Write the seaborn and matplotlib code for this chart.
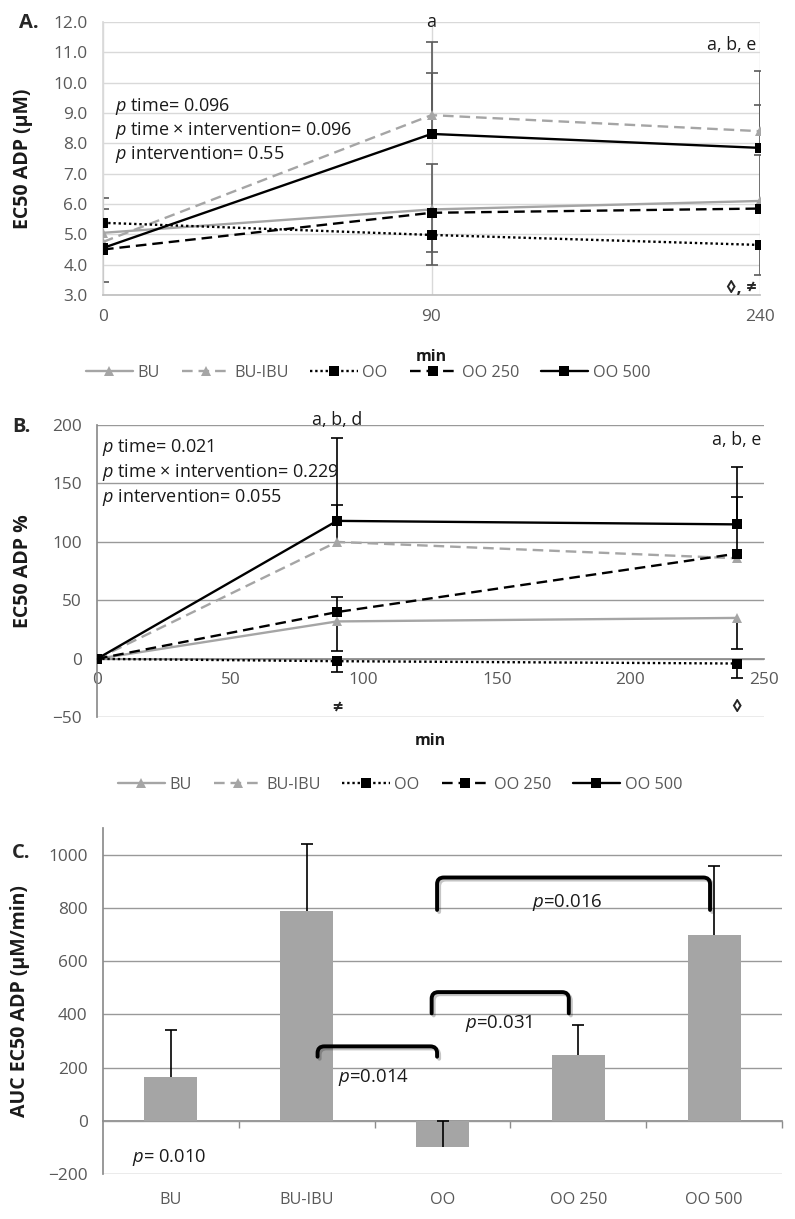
import numpy as np
import pandas as pd
import matplotlib
matplotlib.use("Agg")
import matplotlib.pyplot as plt
import matplotlib.patheffects as pe
from matplotlib.lines import Line2D
from matplotlib.path import Path
from matplotlib.patches import PathPatch
import seaborn as sns

# ---- values ----
groups = ["BU", "BU-IBU", "OO", "OO 250", "OO 500"]

# A. EC50 ADP (uM), categorical time axis
times_a = ["0", "90", "240"]
a_bu = [5.05, 5.82, 6.10]
a_bu_ibu = [4.75, 8.93, 8.40]
a_oo = [5.38, 4.98, 4.65]
a_oo250 = [4.50, 5.71, 5.85]
a_oo500 = [4.55, 8.31, 7.85]
# one-sided SD bars: positive = drawn up, negative = drawn down, 0 = none
a_bu_err = [0.80, 1.50, 1.50]
a_bu_ibu_err = [0.0, 2.42, 2.00]
a_oo_err = [0.83, -0.98, -1.00]
a_oo250_err = [-1.06, -1.28, 0.0]
a_oo500_err = [0.0, 2.02, 1.42]

# B. EC50 ADP % change, numeric minutes axis
times_b = [0, 90, 240]
b_bu = [0, 32, 35]
b_bu_ibu = [0, 100, 86]
b_oo = [0, -2, -4]
b_oo250 = [0, 40, 90]
b_oo500 = [0, 118, 115]
b_bu_err = [0, -25.5, -26.5]
b_bu_ibu_err = [0, 32, 0]
b_oo_err = [0, -9, -12.5]
b_oo250_err = [0, 13, 48]
b_oo500_err = [0, 71, 49]

# C. AUC EC50 ADP (uM/min)
auc = [165, 790, -97, 248, 697]
auc_err = [178, 252, 97, 114, 262]

# ---- styling ----
GRAY = "#a5a5a5"
TICK = "#595959"
TXT = "#1a1a1a"
AXIS = "#8c8c8c"
palette = {"BU": GRAY, "BU-IBU": GRAY, "OO": "black", "OO 250": "black", "OO 500": "black"}
dash_map = {"BU": "", "BU-IBU": (4.5, 2.5), "OO": (1, 1.2), "OO 250": (4.5, 2.5), "OO 500": ""}
marker_map = {"BU": "^", "BU-IBU": "^", "OO": "s", "OO 250": "s", "OO 500": "s"}

W, H = 795, 1219
FS_TICK = 12.4
FS_TEXT = 13
FS_LEG = 11.7
FS_YLAB = 14
FS_NOTE = 12.8


def long_frame(x, series):
    rows = []
    for g, vals in zip(groups, series):
        for xi, v in zip(x, vals):
            rows.append({"x": xi, "value": v, "group": g})
    return pd.DataFrame(rows)


def draw_errors(ax, x, vals, errs, color, cap=8):
    x = np.asarray(x, float)
    v = np.asarray(vals, float)
    e = np.asarray(errs, float)
    m = e != 0
    ends = v[m] + e[m]
    ax.vlines(x[m], v[m], ends, colors=color, lw=1.2, zorder=2)
    ax.plot(x[m], ends, ls="none", marker="_", ms=cap, mew=1.2, color=color, zorder=2)


def draw_lines(ax, df):
    sns.lineplot(data=df, x="x", y="value", hue="group", style="group",
                 hue_order=groups, style_order=groups, palette=palette,
                 dashes=dash_map, markers=marker_map, markersize=7,
                 markeredgewidth=0, linewidth=1.7, errorbar=None,
                 legend=False, ax=ax, zorder=3)


def legend_handles():
    handles = []
    for g in groups:
        ls = "-" if dash_map[g] == "" else (0, dash_map[g])
        handles.append(Line2D([], [], color=palette[g], linestyle=ls, lw=1.7,
                              marker=marker_map[g], markersize=7, markeredgewidth=0))
    return handles


def bracket(ax, x1, x2, top, leg, rx=0.05, ry=25):
    verts = [(x1, leg), (x1, top - ry), (x1, top), (x1 + rx, top),
             (x2 - rx, top), (x2, top), (x2, top - ry), (x2, leg)]
    codes = [Path.MOVETO, Path.LINETO, Path.CURVE3, Path.CURVE3,
             Path.LINETO, Path.CURVE3, Path.CURVE3, Path.LINETO]
    patch = PathPatch(Path(verts, codes), fill=False, lw=2.8, edgecolor="black",
                      capstyle="round", joinstyle="round", zorder=4)
    patch.set_path_effects([pe.SimpleLineShadow(offset=(1.5, -1.5), alpha=0.25), pe.Normal()])
    ax.add_patch(patch)


def main():
    sns.set_theme(style="whitegrid")
    plt.rcParams["font.family"] = ["Open Sans", "DejaVu Sans"]
    plt.rcParams["mathtext.fontset"] = "custom"
    plt.rcParams["mathtext.it"] = "Open Sans:italic"
    plt.rcParams["mathtext.rm"] = "Open Sans"

    fig = plt.figure(figsize=(W / 100, H / 100), dpi=100)
    fig.patch.set_facecolor("white")

    # ---------- A ----------
    ax = fig.add_axes([103 / W, 1 - 295 / H, 657 / W, 273 / H])
    pos = np.arange(len(times_a))
    series_a = [a_bu, a_bu_ibu, a_oo, a_oo250, a_oo500]
    errs_a = [a_bu_err, a_bu_ibu_err, a_oo_err, a_oo250_err, a_oo500_err]
    for vals, errs in zip(series_a, errs_a):
        draw_errors(ax, pos, vals, errs, "#5a5a5a")
    draw_lines(ax, long_frame(pos, series_a))
    ax.set_xlim(0, 2)
    ax.set_ylim(3, 12)
    ax.set_xticks(pos, times_a)
    ax.set_yticks(np.arange(3, 12.1, 1.0))
    ax.set_yticklabels([f"{t:.1f}" for t in np.arange(3, 12.1, 1.0)])
    ax.grid(True, axis="both", color="#d9d9d9", lw=1)
    for s in ["top", "right"]:
        ax.spines[s].set_visible(False)
    ax.spines["left"].set_color("#d9d9d9")
    ax.spines["bottom"].set_color("#bfbfbf")
    ax.tick_params(length=0, labelsize=FS_TICK, labelcolor=TICK)
    ax.tick_params(axis="y", pad=11)
    ax.tick_params(axis="x", pad=10)
    ax.set_xlabel("min", fontsize=11.5, fontweight="bold", color=TXT)
    ax.xaxis.set_label_coords(0.5, -0.198)
    ax.set_ylabel("EC50 ADP (μM)", fontsize=FS_YLAB, fontweight="bold", color=TXT)
    ax.yaxis.set_label_coords(-0.1065, 0.5)
    for i, t in enumerate(["$\\it{p}$ time= 0.096", "$\\it{p}$ time × intervention= 0.096",
                           "$\\it{p}$ intervention= 0.55"]):
        ax.text(0.018, [0.692, 0.604, 0.513][i], t, transform=ax.transAxes,
                fontsize=FS_TEXT, va="center", ha="left", color=TXT)
    ax.text(1, 12.0, "a", fontsize=FS_NOTE, ha="center", va="center", color=TXT)
    ax.text(1.99, 11.24, "a, b, e", fontsize=FS_NOTE, ha="right", va="center", color=TXT)
    ax.text(1.99, 3.24, "◊, ≠", fontsize=13, ha="right", va="center", fontweight="bold")
    fig.legend(legend_handles(), groups, loc="center", bbox_to_anchor=(368 / W, 1 - 373 / H),
               ncol=5, frameon=False, fontsize=FS_LEG, handlelength=2.9,
               handletextpad=0.3, columnspacing=1.35, labelcolor=TICK)

    # ---------- B ----------
    ax = fig.add_axes([97 / W, 1 - 717.3 / H, 666.6 / W, 292.3 / H])
    series_b = [b_bu, b_bu_ibu, b_oo, b_oo250, b_oo500]
    errs_b = [b_bu_err, b_bu_ibu_err, b_oo_err, b_oo250_err, b_oo500_err]
    for vals, errs in zip(series_b, errs_b):
        draw_errors(ax, times_b, vals, errs, "black")
    draw_lines(ax, long_frame(times_b, series_b))
    ax.set_xlim(0, 250)
    ax.set_ylim(-50, 200)
    ax.set_xticks(np.arange(0, 251, 50))
    ax.set_yticks(np.arange(-50, 201, 50))
    ax.yaxis.grid(True, color="#999999", lw=1)
    ax.xaxis.grid(False)
    for s in ["top", "right"]:
        ax.spines[s].set_visible(False)
    ax.spines["left"].set_color(AXIS)
    ax.spines["bottom"].set_color(AXIS)
    ax.spines["bottom"].set_position(("data", 0))
    ax.tick_params(labelsize=FS_TICK, labelcolor=TICK)
    ax.tick_params(axis="y", length=0, pad=11)
    ax.tick_params(axis="x", length=5, direction="inout", color=AXIS, pad=7)
    ax.set_xlabel("min", fontsize=11.5, fontweight="bold", color=TXT)
    ax.xaxis.set_label_coords(0.5, -0.055)
    ax.set_ylabel("EC50 ADP %", fontsize=FS_YLAB, fontweight="bold", color=TXT)
    ax.yaxis.set_label_coords(-0.096, 0.5)
    for i, t in enumerate(["$\\it{p}$ time= 0.021", "$\\it{p}$ time × intervention= 0.229",
                           "$\\it{p}$ intervention= 0.055"]):
        ax.text(0.007, [0.923, 0.838, 0.752][i], t, transform=ax.transAxes,
                fontsize=FS_TEXT, va="center", ha="left", color=TXT)
    ax.text(90, 204, "a, b, d", fontsize=FS_NOTE, ha="center", va="center", color=TXT)
    ax.text(240, 187, "a, b, e", fontsize=FS_NOTE, ha="center", va="center", color=TXT)
    ax.text(90, -42, "≠", fontsize=13, ha="center", va="center", fontweight="bold")
    ax.text(240, -41, "◊", fontsize=13, ha="center", va="center", fontweight="bold")
    fig.legend(legend_handles(), groups, loc="center", bbox_to_anchor=(400 / W, 1 - 785 / H),
               ncol=5, frameon=False, fontsize=FS_LEG, handlelength=2.9,
               handletextpad=0.3, columnspacing=1.35, labelcolor=TICK)

    # ---------- C ----------
    ax = fig.add_axes([103 / W, 1 - 1174 / H, 679 / W, 345.7 / H])
    c_ylim = (-200, 1100)
    sns.barplot(x=groups, y=auc, color=GRAY, width=0.39, saturation=1,
                errorbar=None, linewidth=0, ax=ax, zorder=2)
    draw_errors(ax, np.arange(len(groups)), auc, auc_err, "black", cap=9)
    ax.set_xlim(-0.5, len(groups) - 0.5)
    ax.set_ylim(*c_ylim)
    ax.set_yticks(np.arange(-200, 1001, 200))
    ax.set_axisbelow(True)
    ax.yaxis.grid(True, color="#999999", lw=1)
    ax.xaxis.grid(False)
    for s in ["top", "right", "bottom"]:
        ax.spines[s].set_visible(False)
    ax.spines["left"].set_color(AXIS)
    ax.tick_params(labelsize=FS_TICK, labelcolor=TICK, length=0)
    ax.tick_params(axis="y", pad=11)
    ax.tick_params(axis="x", pad=13, labelsize=11.7)
    ax.set_xlabel("")
    ax.set_ylabel("AUC EC50 ADP (μM/min)", fontsize=FS_YLAB, fontweight="bold", color=TXT)
    ax.yaxis.set_label_coords(-0.1075, 0.5)

    # category axis line crossing at zero, with tick marks between bars
    frac0 = (0 - c_ylim[0]) / (c_ylim[1] - c_ylim[0])
    sec = ax.secondary_xaxis(frac0)
    sec.xaxis.set_ticks_position("bottom")
    sec.set_xticks(np.arange(len(groups)) + 0.5, [""] * len(groups))
    sec.tick_params(axis="x", length=5, width=1, color=AXIS, direction="out")
    for s in sec.spines.values():
        s.set_color(AXIS)

    bracket(ax, 1.08, 1.96, 280, 241)
    bracket(ax, 1.92, 2.93, 484, 404)
    bracket(ax, 1.96, 3.97, 915, 793)
    ax.text(1.49, 164, "$\\it{p}$=0.014", fontsize=13.4, ha="center", va="center", color=TXT)
    ax.text(2.41, 367, "$\\it{p}$=0.031", fontsize=13.4, ha="center", va="center", color=TXT)
    ax.text(2.92, 821, "$\\it{p}$=0.016", fontsize=13.4, ha="center", va="center", color=TXT)
    ax.text(-0.29, -139, "$\\it{p}$= 0.010", fontsize=13.2, ha="left", va="center", color=TXT)

    # panel letters
    fig.text(19 / W, 1 - 23 / H, "A.", fontsize=14.5, fontweight="bold", va="center")
    fig.text(12 / W, 1 - 427 / H, "B.", fontsize=14.5, fontweight="bold", va="center")
    fig.text(12 / W, 1 - 853 / H, "C.", fontsize=14.5, fontweight="bold", va="center")

    fig.savefig("out.png", dpi=100, facecolor="white")


if __name__ == "__main__":
    main()
